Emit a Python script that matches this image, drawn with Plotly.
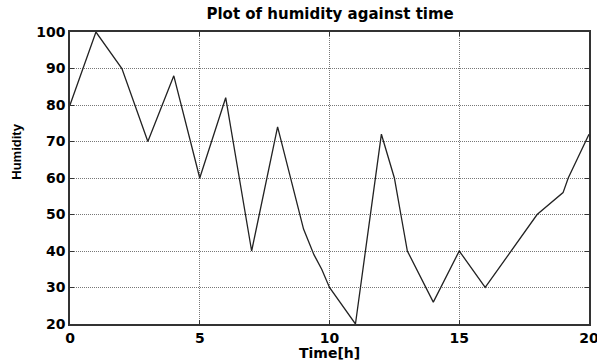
import plotly.graph_objects as go

time_h = [0, 1, 2, 3, 4, 5, 6, 7, 8, 8.5, 9, 9.4, 9.7, 10, 11, 12, 12.5, 12.75, 13, 14, 15, 16, 17, 18, 19, 19.2, 20]
humidity = [80, 100, 90, 70, 88, 60, 82, 40, 74, 60, 46, 39, 35, 30, 20, 72, 60, 50, 40, 26, 40, 30, 40, 50, 56, 60, 72]

x_ticks = [0, 5, 10, 15, 20]
y_ticks = [20, 30, 40, 50, 60, 70, 80, 90, 100]

tick_family = "DejaVu Sans, sans-serif"
label_family = "Liberation Sans, Arial, sans-serif"

fig = go.Figure()
fig.add_trace(go.Scatter(x=time_h, y=humidity, mode="lines",
                         line=dict(color="#222222", width=1.3), showlegend=False))

fig.update_layout(
    width=597, height=362,
    margin=dict(l=70, r=8, t=32, b=38, autoexpand=False),
    paper_bgcolor="white", plot_bgcolor="white",
    title=dict(text="<b>Plot of humidity against time</b>", x=0.553, xanchor="center",
               y=0.962, yanchor="middle", font=dict(family=tick_family, size=15, color="black")),
    font=dict(family=tick_family, color="black"),
    annotations=[
        dict(text="<b>Time[h]</b>", xref="paper", yref="paper", x=0.5, y=0, xanchor="center",
             yanchor="top", yshift=-19, showarrow=False,
             font=dict(family=tick_family, size=14, color="black")),
        dict(text="<b>Humidity</b>", xref="paper", yref="paper", x=0, y=0.59, xanchor="center",
             yanchor="middle", xshift=-53, textangle=-90, showarrow=False,
             font=dict(family=label_family, size=13, color="black")),
    ],
)
grid_kw = dict(showgrid=True, gridcolor="#777777", griddash="1px,1px", gridwidth=1,
               showline=True, linecolor="#333333", linewidth=1.5, mirror="ticks",
               ticks="inside", ticklen=4, tickcolor="#333333", zeroline=False,
               automargin=False, ticklabeloverflow="allow",
               tickfont=dict(size=14, family=tick_family, color="black"))
fig.update_xaxes(range=[0, 20], tickvals=x_ticks, ticktext=[f"<b>{v}</b>" for v in x_ticks], **grid_kw)
fig.update_yaxes(range=[20, 100], tickvals=y_ticks, ticktext=[f"<b>{v}</b>" for v in y_ticks], **grid_kw)

fig.write_html("out.html", config={"displayModeBar": False},
               post_script="document.body.style.margin='0';")
